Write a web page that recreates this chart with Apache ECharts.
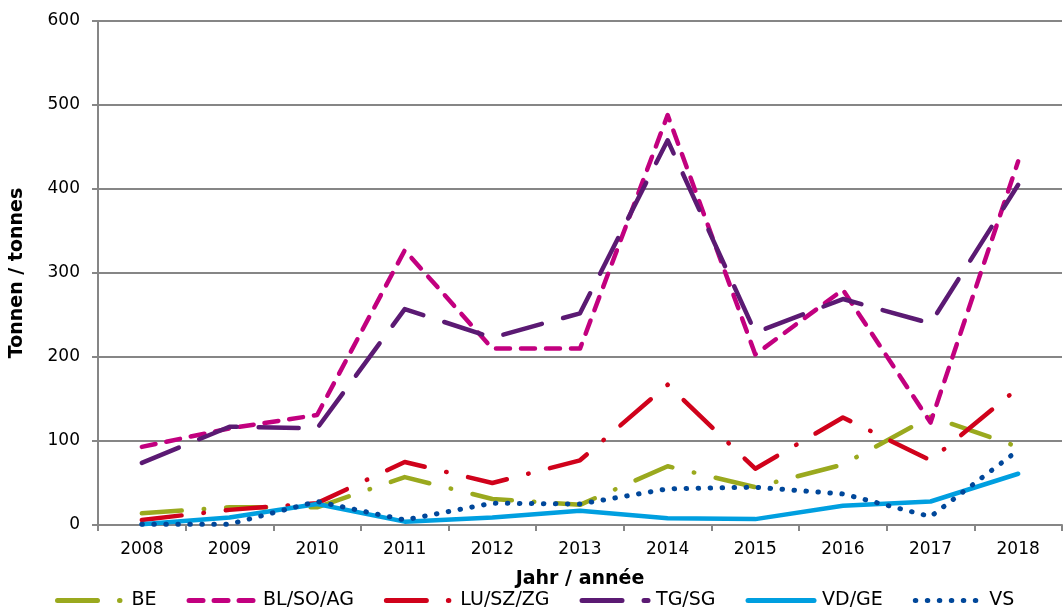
<!DOCTYPE html>
<html>
<head>
<meta charset="utf-8">
<script src="https://cdn.jsdelivr.net/npm/echarts@6/dist/echarts.min.js"></script>
<style>
  html, body { margin: 0; padding: 0; background: #fff; }
  #chart { width: 1063px; height: 611px; }
</style>
</head>
<body>
<div id="chart"></div>
<script>
const years = ["2008", "2009", "2010", "2011", "2012", "2013", "2014", "2015", "2016", "2017", "2018"];

const be = [14, 21, 21, 57, 31, 24, 70, 45, 72, 129, 93];
const blSoAg = [93, 115, 131, 327, 210, 210, 488, 203, 280, 122, 433];
const luSzZg = [6, 18, 26, 75, 50, 77, 167, 67, 128, 77, 163];
const tgSg = [74, 117, 115, 257, 223, 252, 458, 229, 269, 240, 405];
const vdGe = [1, 9, 25, 4, 9, 17, 8, 7, 23, 28, 61];
const vs = [1, 1, 28, 6, 26, 25, 43, 45, 37, 10, 89];

const chart = echarts.init(document.getElementById("chart"));

const font = "DejaVu Sans";

const makeLine = (name, data, color, dash, width) => ({
  name: name,
  type: "line",
  data: data,
  symbol: "none",
  lineStyle: {
    color: color,
    width: width || 4.5,
    type: dash,
    cap: "round",
    join: "round",
  },
  itemStyle: { color: color },
});

const option = {
  animation: false,
  backgroundColor: "#fff",
  grid: { left: 98, right: 1, top: 21, bottom: 86, outerBoundsMode: "none", containLabel: false },
  legend: {
    top: 591,
    left: 55,
    padding: 0,
    itemWidth: 66,
    itemHeight: 18,
    itemGap: 30,
    itemStyle: { opacity: 0 },
    lineStyle: { width: 5, cap: "round" },
    textStyle: { fontFamily: font, fontSize: 19, color: "#000", padding: [0, 0, 0, 3] },
    data: ["BE", "BL/SO/AG", "LU/SZ/ZG", "TG/SG", "VD/GE", "VS"],
  },
  xAxis: {
    type: "category",
    data: years,
    boundaryGap: true,
    name: "Jahr / année",
    nameLocation: "middle",
    nameGap: 45,
    nameTextStyle: { fontFamily: font, fontSize: 19, fontWeight: "bold", color: "#000", verticalAlign: "top" },
    axisLine: { lineStyle: { color: "#868686", width: 2 } },
    axisTick: { show: true, length: 6, lineStyle: { color: "#868686", width: 2 } },
    axisLabel: { fontFamily: font, fontSize: 17, color: "#000", margin: 16 },
  },
  yAxis: {
    type: "value",
    min: 0,
    max: 600,
    interval: 100,
    name: "Tonnen / tonnes",
    nameLocation: "middle",
    nameGap: 71,
    nameTextStyle: { fontFamily: font, fontSize: 19, fontWeight: "bold", color: "#000" },
    axisLine: { show: true, lineStyle: { color: "#868686", width: 2 } },
    axisTick: { show: true, length: 6, lineStyle: { color: "#868686", width: 2 } },
    axisLabel: { fontFamily: font, fontSize: 17, color: "#000", margin: 18 },
    splitLine: { lineStyle: { color: "#868686", width: 2 } },
  },
  series: [
    makeLine("BE", be, "#9aa91e", [40, 22, 0.5, 22]),
    makeLine("BL/SO/AG", blSoAg, "#c2007f", [14, 11]),
    makeLine("LU/SZ/ZG", luSzZg, "#d0021b", [40, 22, 0.5, 22]),
    makeLine("TG/SG", tgSg, "#5b1a73", [40, 22]),
    makeLine("VD/GE", vdGe, "#009fe0", "solid"),
    makeLine("VS", vs, "#00479a", [0.5, 11.5], 5),
  ],
};

chart.setOption(option);
</script>
</body>
</html>
